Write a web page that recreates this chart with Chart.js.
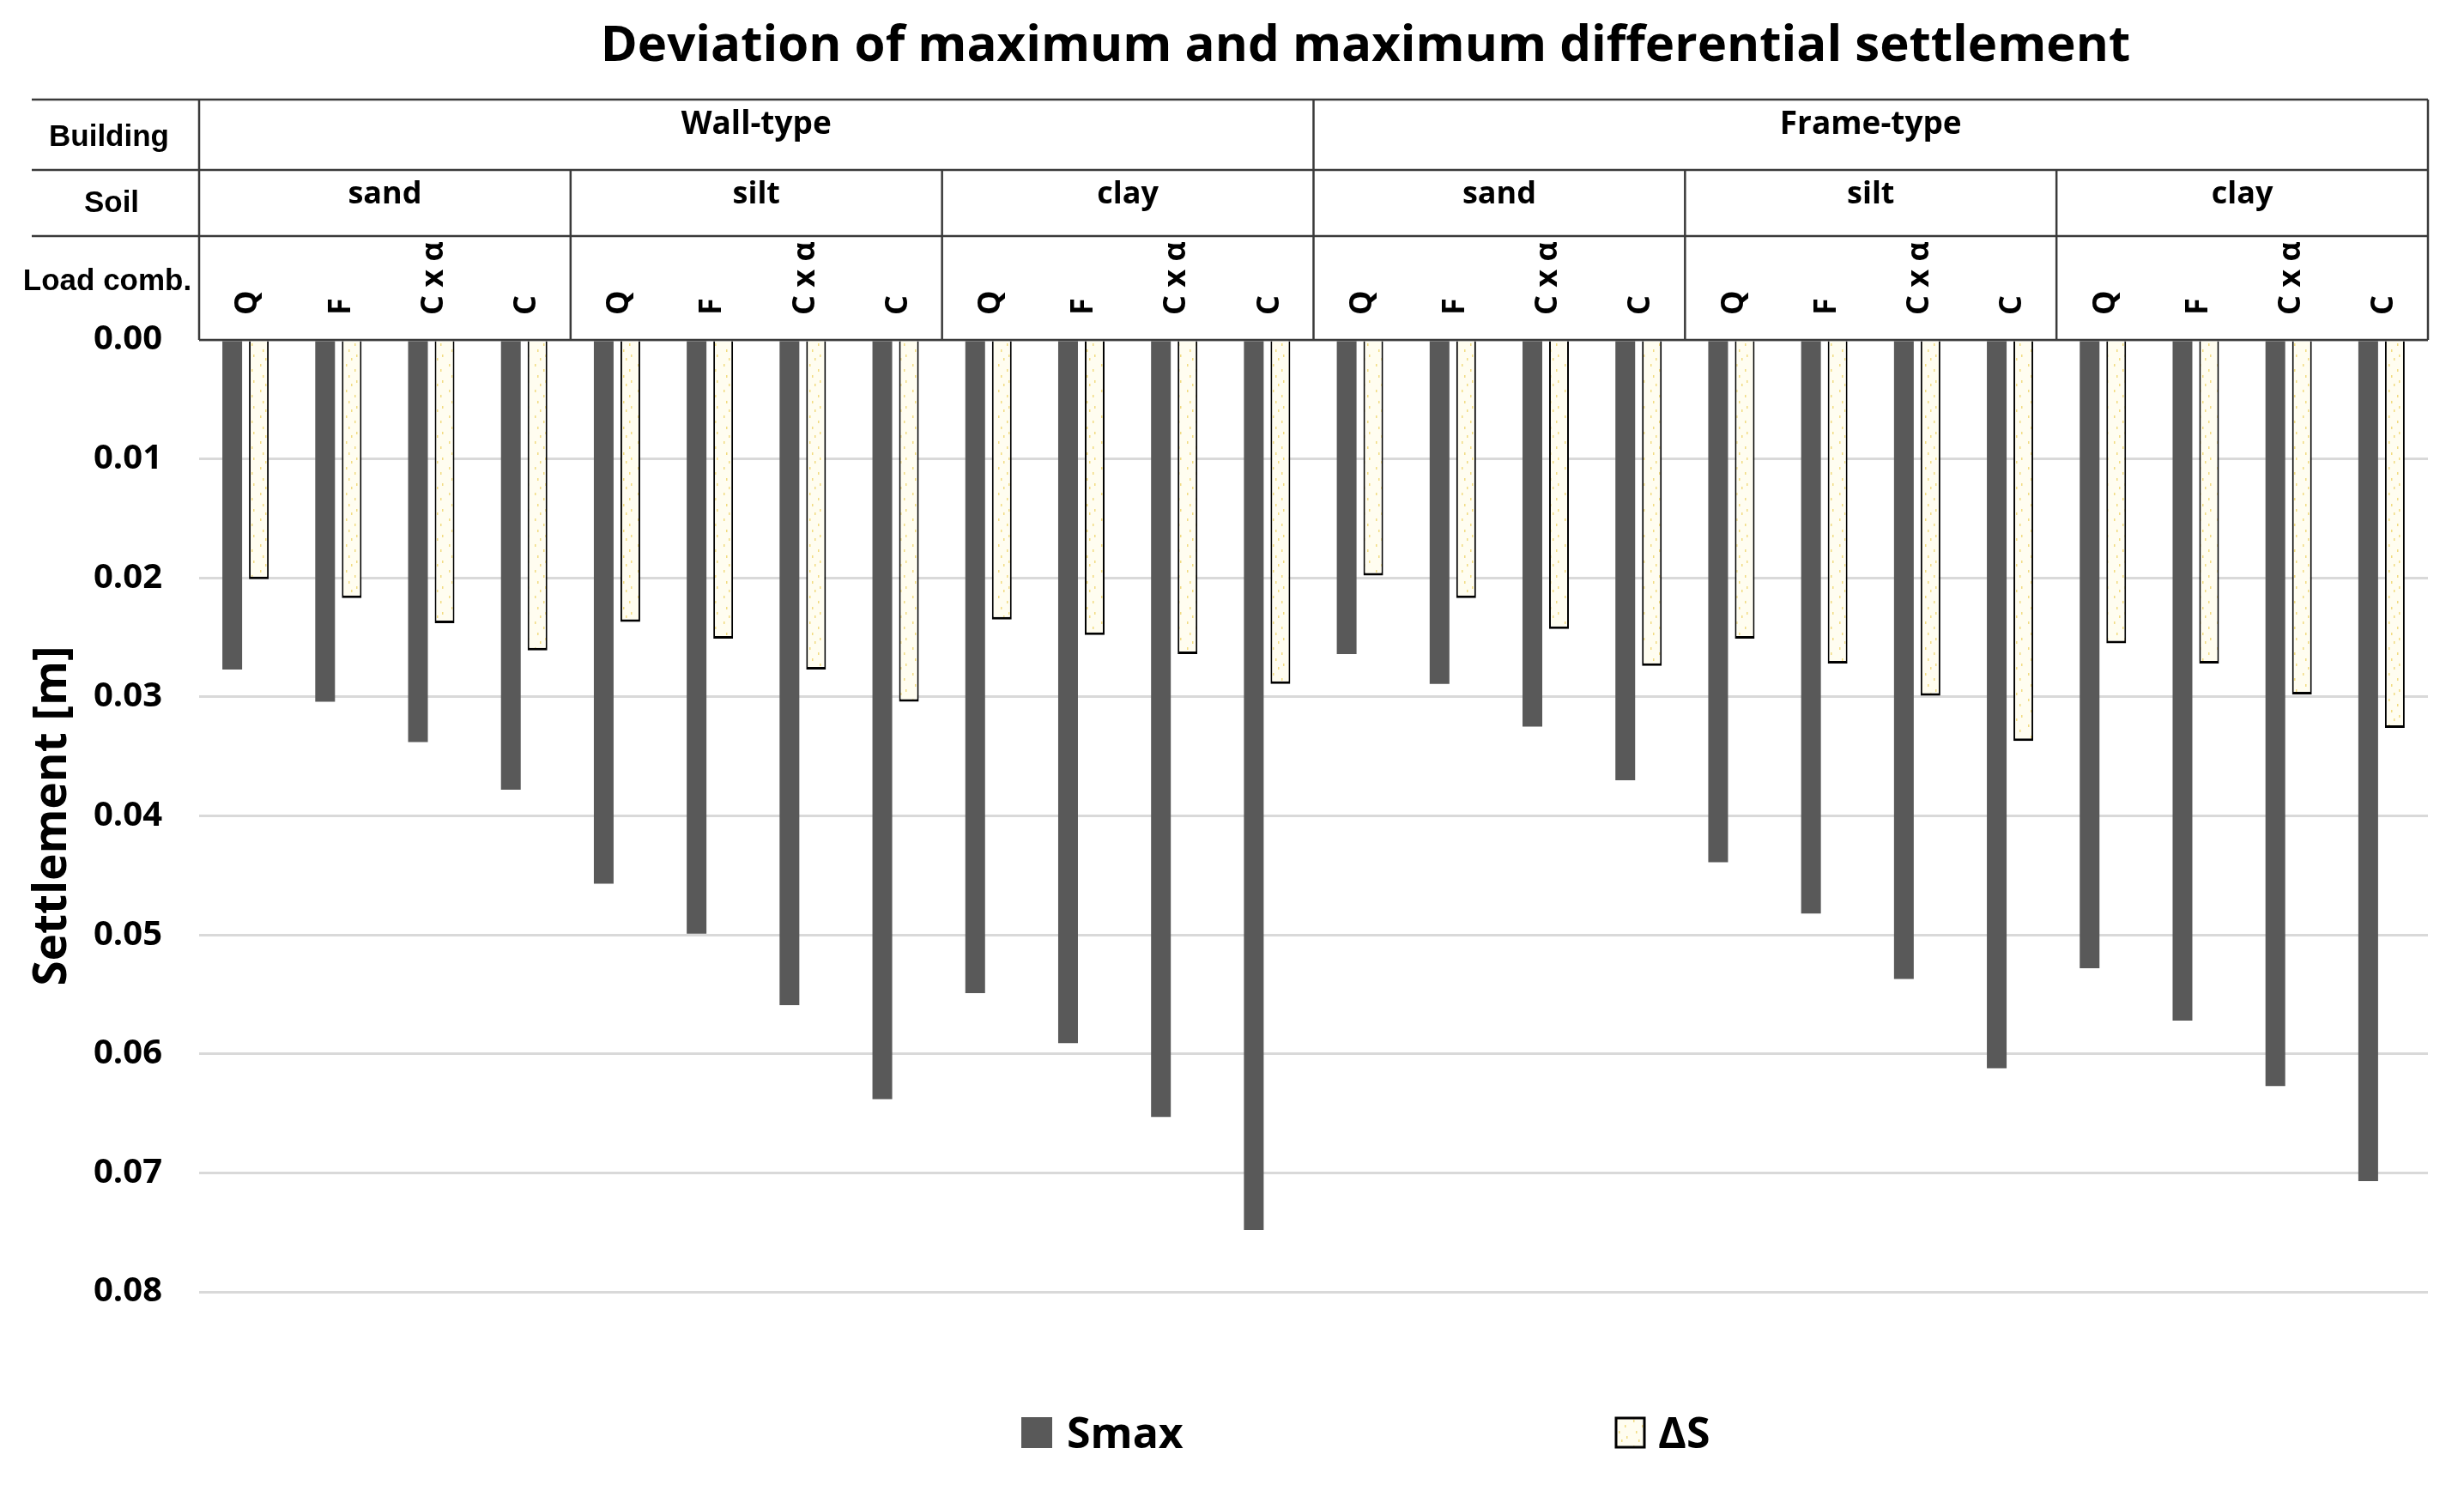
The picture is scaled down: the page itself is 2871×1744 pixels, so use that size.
<!DOCTYPE html>
<html>
<head>
<meta charset="utf-8">
<script src="https://cdn.jsdelivr.net/npm/chart.js@4.4.1/dist/chart.umd.min.js"></script>
<style>
  html, body { margin: 0; padding: 0; background: #ffffff; }
  #wrap { width: 2871px; height: 1744px; }
  canvas { display: block; }
</style>
</head>
<body>
<div id="wrap"><canvas id="c" width="2871" height="1744" style="width:2871px;height:1744px"></canvas></div>
<script>
// ---------------- data ----------------
const chartTitle = 'Deviation of maximum and maximum differential settlement';
const rowLabels = ['Building', 'Soil', 'Load comb.'];
const buildings = ['Wall-type', 'Frame-type'];
const soils = ['sand', 'silt', 'clay'];
const loadCombs = ['Q', 'F', 'C x α', 'C'];
const seriesNames = ['Smax', 'ΔS'];
const smax = [0.0277, 0.0304, 0.0338, 0.0378,  0.0457, 0.0499, 0.0559, 0.0638,  0.0549, 0.0591, 0.0653, 0.0748,
              0.0264, 0.0289, 0.0325, 0.0370,  0.0439, 0.0482, 0.0537, 0.0612,  0.0528, 0.0572, 0.0627, 0.0707];
const deltaS = [0.0201, 0.0217, 0.0238, 0.0261,  0.0237, 0.0251, 0.0277, 0.0304,  0.0235, 0.0248, 0.0264, 0.0289,
                0.0198, 0.0217, 0.0243, 0.0274,  0.0251, 0.0272, 0.0299, 0.0337,  0.0255, 0.0272, 0.0298, 0.0326];
const yMin = 0, yMax = 0.08, yStep = 0.01;
const yTitle = 'Settlement [m]';

// category labels built from the header arrays
const labels = [];
buildings.forEach(b => soils.forEach(s => loadCombs.forEach(l => labels.push(l))));

// ---------------- styles ----------------
const canvas = document.getElementById('c');
const ctx0 = canvas.getContext('2d');
function makePattern() {
  const c = document.createElement('canvas');
  c.width = 20; c.height = 30;
  const g = c.getContext('2d');
  g.fillStyle = '#fffdf0';
  g.fillRect(0, 0, 20, 30);
  g.fillStyle = '#f2dc82';
  [[3, 4], [13, 10], [6, 17], [15, 23], [9, 27]].forEach(p => g.fillRect(p[0], p[1], 1.5, 3));
  return ctx0.createPattern(c, 'repeat');
}
const dsPattern = makePattern();
const smaxColor = '#595959';
const lineColor = '#3a3a3a';
const OS = '"Open Sans", "DejaVu Sans", sans-serif';
const LS = '"Liberation Sans", Arial, sans-serif';

const headerPlugin = {
  id: 'header',
  beforeDraw(chart) {
    const c = chart.ctx;
    c.save();
    c.fillStyle = '#ffffff';
    c.fillRect(0, 0, chart.width, chart.height);
    c.restore();
  },
  afterDraw(chart) {
    const c = chart.ctx;
    const xs = chart.scales.x;
    const ca = chart.chartArea;
    const n = labels.length;
    const edge = i => (i === 0 ? ca.left : i === n ? ca.right :
      (xs.getPixelForValue(i - 1) + xs.getPixelForValue(i)) / 2);
    const rowTops = [116, 198, 275];
    c.save();
    // title
    c.fillStyle = '#000';
    c.textAlign = 'center';
    c.textBaseline = 'alphabetic';
    c.font = 'bold 62px ' + OS;
    const w = c.measureText(chartTitle).width;
    const fs = Math.min(66, 62 * 1784 / w);
    c.font = 'bold ' + fs.toFixed(1) + 'px ' + OS;
    c.fillText(chartTitle, 1591, 71);

    // table lines
    c.strokeStyle = lineColor;
    c.lineWidth = 2.5;
    c.beginPath();
    rowTops.forEach(y => { c.moveTo(37, y); c.lineTo(ca.right, y); });
    c.moveTo(ca.left, ca.top); c.lineTo(ca.right, ca.top);
    c.moveTo(ca.left, rowTops[0]); c.lineTo(ca.left, ca.top);
    c.moveTo(ca.right, rowTops[0]); c.lineTo(ca.right, ca.top);
    const per = soils.length * loadCombs.length;
    for (let b = 1; b < buildings.length; b++) {
      const xx = edge(b * per);
      c.moveTo(xx, rowTops[0]); c.lineTo(xx, ca.top);
    }
    for (let k = 1; k < buildings.length * soils.length; k++) {
      if (k % soils.length === 0) continue;
      const xx = edge(k * loadCombs.length);
      c.moveTo(xx, rowTops[1]); c.lineTo(xx, ca.top);
    }
    c.stroke();

    // row labels
    c.font = 'bold 35px ' + LS;
    c.fillText(rowLabels[0], 127, 170);
    c.fillText(rowLabels[1], 130, 247);
    c.fillText(rowLabels[2], 125, 338);

    // building labels
    c.font = 'bold 37px ' + OS;
    buildings.forEach((b, i) => {
      const cx = (edge(i * per) + edge((i + 1) * per)) / 2;
      c.fillText(b, cx, 156);
    });
    // soil labels
    c.font = 'bold 36px ' + OS;
    let k = 0;
    buildings.forEach(() => soils.forEach(s => {
      const cx = (edge(k * loadCombs.length) + edge((k + 1) * loadCombs.length)) / 2;
      c.fillText(s, cx, 237);
      k++;
    }));
    // load combination labels (rotated)
    c.font = 'bold 36px ' + OS;
    c.textAlign = 'left';
    c.textBaseline = 'middle';
    labels.forEach((l, i) => {
      c.save();
      c.translate(xs.getPixelForValue(i) + 3, 367);
      c.rotate(-Math.PI / 2);
      c.fillText(l, 0, 0);
      c.restore();
    });

    // legend
    c.textBaseline = 'alphabetic';
    c.textAlign = 'left';
    c.font = 'bold 50px ' + OS;
    c.fillStyle = smaxColor;
    c.fillRect(1190, 1651, 36, 36);
    c.fillStyle = '#000';
    c.fillText(seriesNames[0], 1243, 1687);
    c.fillStyle = dsPattern;
    c.fillRect(1883, 1652, 33, 34);
    c.strokeStyle = '#000';
    c.lineWidth = 3;
    c.strokeRect(1883, 1652, 33, 34);
    c.fillStyle = '#000';
    c.fillText(seriesNames[1], 1932, 1687);
    c.restore();
  }
};

new Chart(canvas, {
  type: 'bar',
  data: {
    labels: labels,
    datasets: [
      { label: seriesNames[0], data: smax, backgroundColor: smaxColor, borderWidth: 0 },
      { label: seriesNames[1], data: deltaS, backgroundColor: dsPattern, borderColor: '#000000',
        borderWidth: { top: 0, left: 2, right: 2, bottom: 3 }, borderSkipped: false }
    ]
  },
  options: {
    responsive: false,
    devicePixelRatio: 1,
    animation: false,
    layout: { padding: { top: 396, right: 42, bottom: 239, left: 0 } },
    datasets: { bar: { categoryPercentage: 0.573, barPercentage: 0.742 } },
    plugins: {
      legend: { display: false },
      title: { display: false },
      tooltip: { enabled: false }
    },
    scales: {
      x: { type: 'category', display: false, offset: true },
      y: {
        reverse: true,
        min: yMin, max: yMax,
        ticks: {
          stepSize: yStep,
          callback: v => Number(v).toFixed(2),
          font: { family: OS, weight: 'bold', size: 40 },
          color: '#000',
          padding: 43
        },
        grid: { color: '#d9d9d9', lineWidth: 3, drawTicks: false },
        border: { display: false },
        title: {
          display: true, text: yTitle, color: '#000',
          font: { family: OS, weight: 'bold', size: 53 },
          padding: { top: 30, bottom: 0 }
        },
        afterFit: s => { s.width = 232; }
      }
    }
  },
  plugins: [headerPlugin]
});
</script>
</body>
</html>
